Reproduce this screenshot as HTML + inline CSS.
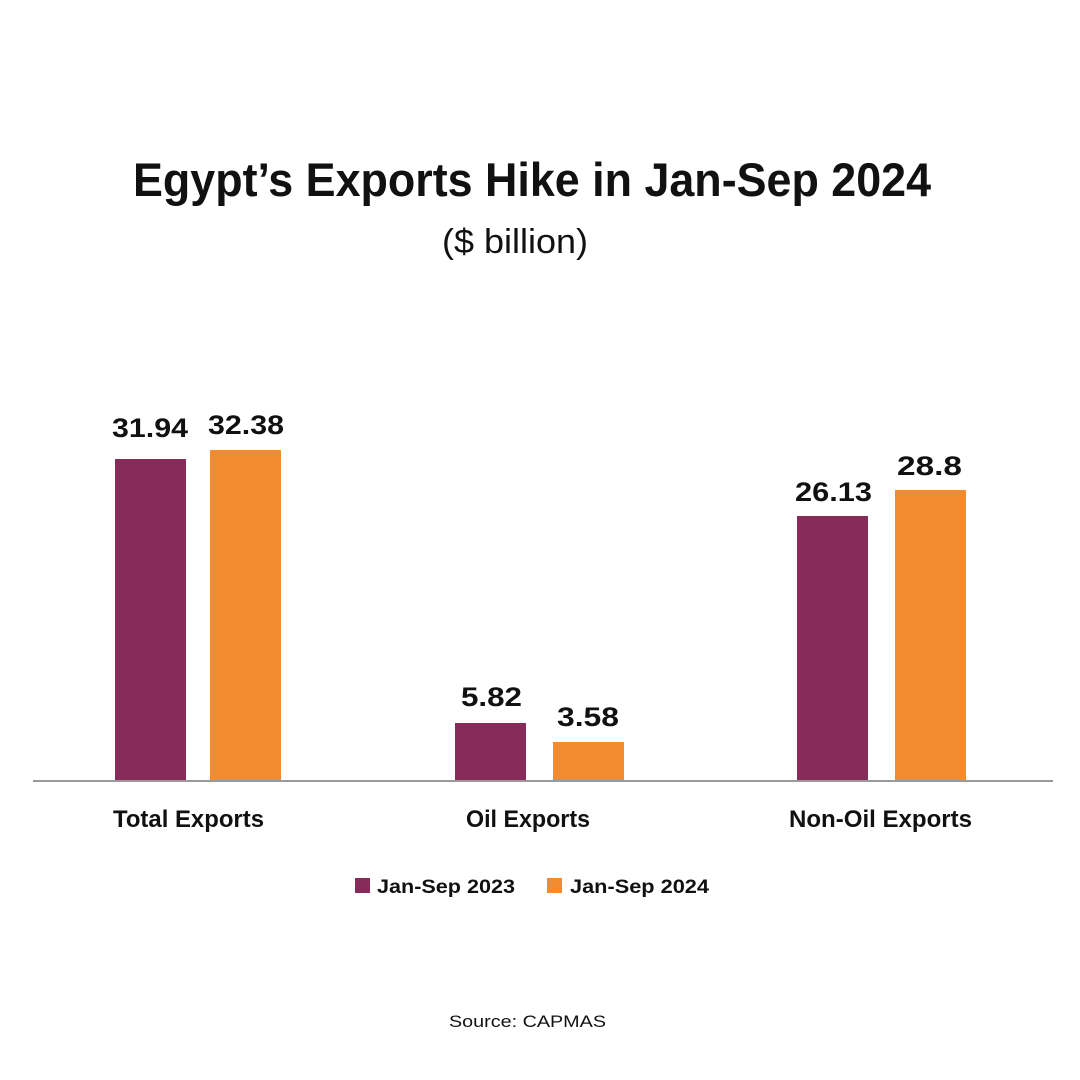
<!DOCTYPE html>
<html><head><meta charset="utf-8"><style>
html,body{margin:0;padding:0;background:#fff;}
svg{display:block;}
text{font-family:"Liberation Sans",sans-serif;fill:#111;}
.b{font-weight:bold;}
</style></head><body>
<svg width="1080" height="1080" viewBox="0 0 1080 1080">
<rect width="1080" height="1080" fill="#fff"/>
<text class="b" x="133" y="196" font-size="47" textLength="798" lengthAdjust="spacingAndGlyphs">Egypt’s Exports Hike in Jan-Sep 2024</text>
<text x="442" y="253" font-size="34" textLength="146" lengthAdjust="spacingAndGlyphs">($ billion)</text>

<rect x="115" y="459" width="71" height="322" fill="#862b5a"/>
<rect x="210" y="450" width="71" height="331" fill="#f28a30"/>
<rect x="455" y="723" width="71" height="58" fill="#862b5a"/>
<rect x="553" y="742" width="71" height="39" fill="#f28a30"/>
<rect x="797" y="516" width="71" height="265" fill="#862b5a"/>
<rect x="895" y="490" width="71" height="291" fill="#f28a30"/>
<rect x="33" y="780" width="1020" height="2" fill="#999"/>

<g class="b" font-size="27">
<text class="b" x="112" y="437" textLength="76" lengthAdjust="spacingAndGlyphs">31.94</text>
<text class="b" x="208" y="434" textLength="76" lengthAdjust="spacingAndGlyphs">32.38</text>
<text class="b" x="461" y="706" textLength="61" lengthAdjust="spacingAndGlyphs">5.82</text>
<text class="b" x="557" y="726" textLength="62" lengthAdjust="spacingAndGlyphs">3.58</text>
<text class="b" x="795" y="501" textLength="77" lengthAdjust="spacingAndGlyphs">26.13</text>
<text class="b" x="897" y="475" textLength="65" lengthAdjust="spacingAndGlyphs">28.8</text>
</g>
<g font-size="24">
<text class="b" x="113" y="827" textLength="151" lengthAdjust="spacingAndGlyphs">Total Exports</text>
<text class="b" x="466" y="827" textLength="124" lengthAdjust="spacingAndGlyphs">Oil Exports</text>
<text class="b" x="789" y="827" textLength="183" lengthAdjust="spacingAndGlyphs">Non-Oil Exports</text>
</g>
<rect x="355" y="878" width="15" height="15" fill="#862b5a"/>
<text class="b" x="377" y="893" font-size="19" textLength="138" lengthAdjust="spacingAndGlyphs">Jan-Sep 2023</text>
<rect x="547" y="878" width="15" height="15" fill="#f28a30"/>
<text class="b" x="570" y="893" font-size="19" textLength="139" lengthAdjust="spacingAndGlyphs">Jan-Sep 2024</text>
<text x="449" y="1027" font-size="17" textLength="157" lengthAdjust="spacingAndGlyphs">Source: CAPMAS</text>
</svg>
</body></html>
